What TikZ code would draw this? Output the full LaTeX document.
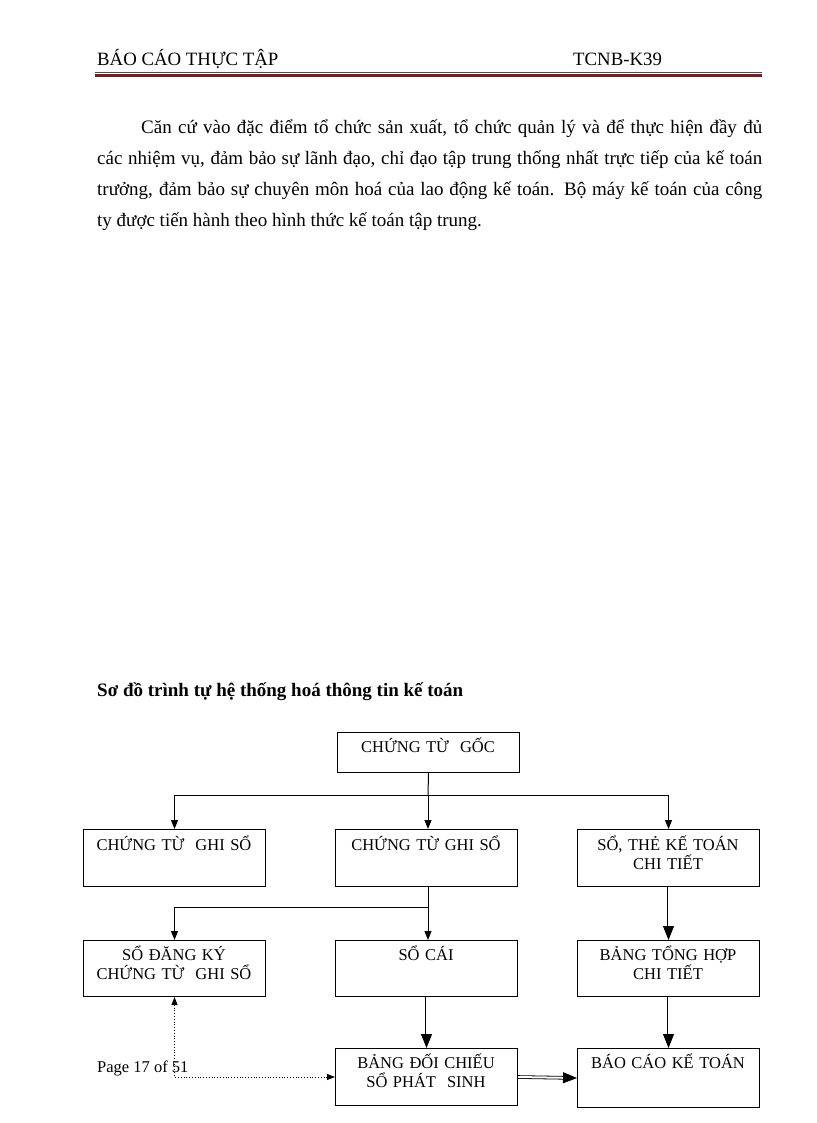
\documentclass[tikz,border=0pt]{standalone}
\usepackage{fontspec}
\setmainfont{Liberation Serif}
\usetikzlibrary{arrows.meta}
\definecolor{rulered}{RGB}{122,30,36}
\tikzset{
  sobox/.style={draw, line width=1pt, minimum width=182pt, inner sep=0pt, anchor=north west},
  sotext/.style={text width=182pt, align=center, anchor=base, inner sep=0pt, font=\fontsize{16.5}{19}\selectfont},
  arr/.style={line width=1pt, -{Triangle[length=9pt,width=7pt]}},
  dblarr/.style={double, line width=0.8pt, double distance=2pt, -{Triangle[length=14pt,width=11pt]}},
  dotarr/.style={dotted, line width=0.8pt, {Triangle[length=8pt,width=6pt]}-{Triangle[length=8pt,width=6pt]}},
}
\begin{document}
\begin{tikzpicture}[x=1pt,y=-1pt]
  \useasboundingbox (0,0) rectangle (816,1123);
  % header
  \node[anchor=base west, inner sep=0pt, font=\fontsize{18.8}{22}\selectfont] (hdleft) at (97,66) {BÁO CÁO THỰC TẬP};
  \node[anchor=base west, inner sep=0pt, font=\fontsize{18.8}{22}\selectfont] (hdright) at (573,66) {TCNB-K39};
  \draw[line width=1pt, black!70] (95,72.5)--(762,72.5);
  \draw[line width=3pt, rulered] (95,75.5)--(762,75.5);
  % paragraph
  \node[anchor=base west, inner sep=0pt, text width=665pt, align=justify, font=\fontsize{19}{31}\selectfont] (intro) at (97,134)
    {\hspace*{44pt}Căn cứ vào đặc điểm tổ chức sản xuất, tổ chức quản lý và để thực hiện đầy đủ\linebreak
     các nhiệm vụ, đảm bảo sự lãnh đạo, chỉ đạo tập trung thống nhất trực tiếp của kế toán\linebreak
     trưởng, đảm bảo sự chuyên môn hoá của lao động kế toán. Bộ máy kế toán của công\linebreak
     ty được tiến hành theo hình thức kế toán tập trung.};
  \node[anchor=base west, inner sep=0pt, font=\bfseries\fontsize{19}{22}\selectfont] (title) at (97,696)
    {Sơ đồ trình tự hệ thống hoá thông tin kế toán};
  % boxes
  \node[sobox, minimum height=40pt] (goc) at (337,732) {};
  \node[sobox, minimum height=57pt] (ctgs) at (83,829) {};
  \node[sobox, minimum height=57pt] (ghiso) at (335,829) {};
  \node[sobox, minimum height=57pt] (soct) at (577,829) {};
  \node[sobox, minimum height=56pt] (sodk) at (83,940) {};
  \node[sobox, minimum height=56pt] (socai) at (335,940) {};
  \node[sobox, minimum height=56pt] (bth) at (577,940) {};
  \node[sobox, minimum height=57pt] (bdc) at (335,1048) {};
  \node[sobox, minimum height=59pt] (bckt) at (577,1048) {};
  % texts
  \node[sotext] (goc-t) at (428,752) {CHỨNG TỪ\ \ GỐC};
  \node[sotext] (ctgs-t) at (174,850) {CHỨNG TỪ\ \ GHI SỔ};
  \node[sotext] (ghiso-t) at (426,850) {CHỨNG TỪ GHI SỔ};
  \node[sotext] (soct-t) at (668,850) {SỔ, THẺ KẾ TOÁN\\CHI TIẾT};
  \node[sotext] (sodk-t) at (174,960) {SỔ ĐĂNG KÝ\\CHỨNG TỪ\ \ GHI SỔ};
  \node[sotext] (socai-t) at (426,960) {SỔ CÁI};
  \node[sotext] (bth-t) at (668,960) {BẢNG TỔNG HỢP\\CHI TIẾT};
  \node[sotext] (bdc-t) at (426,1068) {BẢNG ĐỐI CHIẾU\\SỔ PHÁT\ \ SINH};
  \node[sotext] (bckt-t) at (668,1068) {BÁO CÁO KẾ TOÁN};
  \node[anchor=base west, inner sep=0pt, font=\fontsize{16.5}{19}\selectfont] (page) at (97,1072) {Page 17 of 51};
  % connectors
  \coordinate (split1) at (428,795);
  \coordinate (split2) at (428,907);
  \draw[line width=1pt] (goc.south) -- (split1);
  \draw[arr] (split1) -| (ctgs.north);
  \draw[arr] (split1) -- (split1 |- ghiso.north);
  \draw[arr] (split1) -| (soct.north);
  \draw[line width=1pt] (split2 |- ghiso.south) -- (split2);
  \draw[arr] (split2) -| (sodk.north);
  \draw[arr] (split2) -- (split2 |- socai.north);
  \draw[dblarr] (soct.south) -- (bth.north);
  \draw[dblarr] (socai.south) -- (bdc.north);
  \draw[dblarr] (bth.south) -- (bckt.north);
  \draw[dblarr] (bdc.east) -- (bckt.west);
  \draw[dotarr] (sodk.south) |- (bdc.west);
\end{tikzpicture}
\end{document}
